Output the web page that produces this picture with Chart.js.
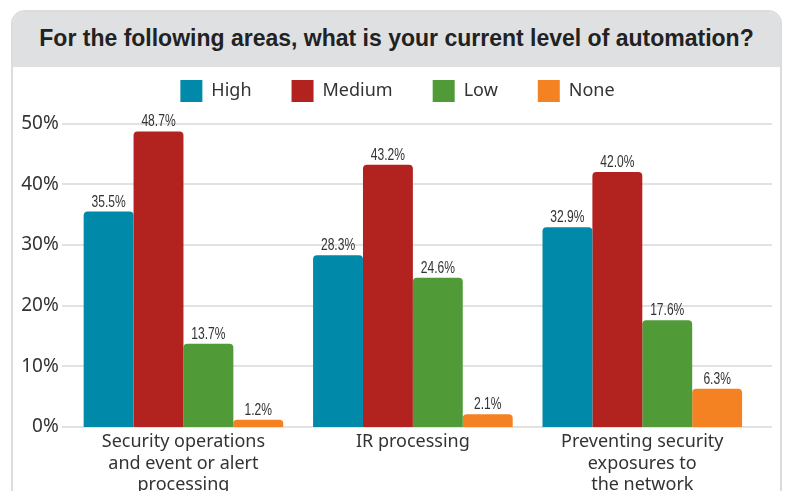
<!DOCTYPE html>
<html>
<head>
<meta charset="utf-8">
<script src="https://cdn.jsdelivr.net/npm/chart.js@4.4.1/dist/chart.umd.min.js"></script>
<style>
  html, body { margin: 0; padding: 0; background: #ffffff; width: 791px; height: 491px; overflow: hidden; }
  #card { position: absolute; left: 11px; top: 10px; width: 771px; height: 520px; border: 2px solid #dcdcdc; border-radius: 14px; box-sizing: border-box; overflow: hidden; background: #fff; }
  #head { position: absolute; left: 0; top: 0; right: 0; height: 55px; background: #dfe0e2; }
  #title { position: absolute; left: 0; right: 0; top: -1px; height: 55px; line-height: 55px; text-align: center; font-family: "Liberation Sans", sans-serif; font-weight: bold; font-size: 23px; color: #222; white-space: nowrap; }
  #wrap { position: absolute; left: 0; top: 0; width: 791px; height: 491px; }
</style>
</head>
<body>
<div id="card"><div id="head"><div id="title">For the following areas, what is your current level of automation?</div></div></div>
<div id="wrap"><canvas id="c" width="791" height="491"></canvas></div>
<script>
const categories = [["Security operations", "and event or alert", "processing"], "IR processing", ["Preventing security", "exposures to", "the network"]];
const seriesNames = ["High", "Medium", "Low", "None"];
const highValues = [35.5, 28.3, 32.9];
const mediumValues = [48.7, 43.2, 42.0];
const lowValues = [13.7, 24.6, 17.6];
const noneValues = [1.2, 2.1, 6.3];
const yTicks = [0, 10, 20, 30, 40, 50];
const colors = ["#0089a9", "#b2231f", "#509a37", "#f48222"];

const FONT = "'Noto Sans', 'Open Sans', sans-serif";
const NARROW = "'Liberation Sans', sans-serif";

const gridPlugin = {
  id: 'gridExt',
  afterLayout(chart) {
    // centre the legend on the page rather than on the plot
    chart.legend.left += 13;
    chart.legend.right += 13;
  },
  beforeDatasetsDraw(chart) {
    const ctx = chart.ctx, y = chart.scales.y;
    ctx.save();
    ctx.strokeStyle = '#e2e2e2';
    ctx.lineWidth = 2;
    yTicks.forEach(v => {
      const py = Math.round(y.getPixelForValue(v));
      ctx.beginPath(); ctx.moveTo(62, py); ctx.lineTo(772, py); ctx.stroke();
    });
    ctx.restore();
  }
};
const labelPlugin = {
  id: 'valLabels',
  afterDatasetsDraw(chart) {
    const ctx = chart.ctx;
    ctx.save();
    ctx.font = "17px " + NARROW;
    ctx.fillStyle = '#333';
    ctx.textAlign = 'center';
    ctx.textBaseline = 'alphabetic';
    chart.data.datasets.forEach((ds, i) => {
      chart.getDatasetMeta(i).data.forEach((bar, j) => {
        ctx.save();
        ctx.translate(bar.x, bar.y - 5);
        ctx.scale(0.71, 1);
        ctx.fillText(ds.data[j].toFixed(1) + '%', 0, 0);
        ctx.restore();
      });
    });
    ctx.restore();
  }
};

const vals = [highValues, mediumValues, lowValues, noneValues];
new Chart(document.getElementById('c'), {
  type: 'bar',
  data: {
    labels: categories,
    datasets: seriesNames.map((n, i) => ({
      label: n, data: vals[i], backgroundColor: colors[i],
      borderRadius: {topLeft: 4, topRight: 4, bottomLeft: 0, bottomRight: 0}, borderSkipped: 'bottom',
      categoryPercentage: 0.87, barPercentage: 1.0
    }))
  },
  options: {
    responsive: false, animation: false,
    layout: { padding: { top: 40, left: 12, right: 34, bottom: 0 } },
    plugins: {
      legend: { labels: { boxWidth: 22, boxHeight: 22, padding: 40, color: '#333', font: { family: FONT, size: 18 } } },
      tooltip: { enabled: false }
    },
    scales: {
      x: {
        grid: { display: false, drawTicks: false }, border: { display: false },
        ticks: { color: '#333', font: { family: FONT, size: 18, lineHeight: 1.2 }, padding: 4, maxRotation: 0, autoSkip: false },
        afterFit(s) { s.height = 64; }
      },
      y: {
        min: 0, max: 51.9,
        grid: { display: false, drawTicks: false }, border: { display: false },
        ticks: { stepSize: 10, includeBounds: false, color: '#333', padding: 10, font: { family: FONT, size: 19 }, callback: v => v + '%' },
        afterFit(s) { s.width = 56.75; }
      }
    }
  },
  plugins: [gridPlugin, labelPlugin]
});
</script>
</body>
</html>
